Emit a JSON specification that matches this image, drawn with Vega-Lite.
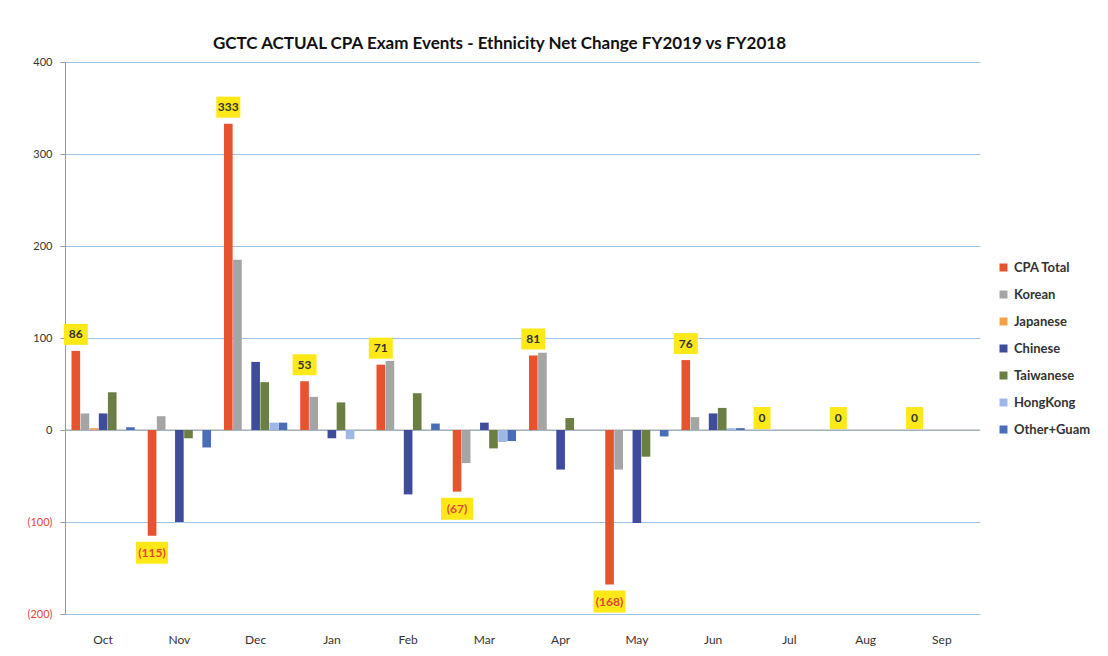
{
  "$schema": "https://vega.github.io/schema/vega-lite/v6.json",
  "width": 915,
  "height": 552,
  "autosize": {"type": "none"},
  "padding": {"left": 65, "top": 62, "right": 128, "bottom": 42},
  "background": "white",
  "title": {"text": "GCTC ACTUAL CPA Exam Events - Ethnicity Net Change FY2019 vs FY2018", "font": "Lato", "fontSize": 17, "fontWeight": "bold", "color": "#111", "anchor": "middle", "dx": -23, "dy": 240, "offset": 10},
  "config": {"view": {"stroke": null}},
  "data": {"values": [
    {"month": "Oct", "series": "CPA Total", "value": 86},
    {"month": "Oct", "series": "Korean", "value": 18},
    {"month": "Oct", "series": "Japanese", "value": 2},
    {"month": "Oct", "series": "Chinese", "value": 18},
    {"month": "Oct", "series": "Taiwanese", "value": 41},
    {"month": "Oct", "series": "HongKong", "value": 0},
    {"month": "Oct", "series": "Other+Guam", "value": 3},
    {"month": "Nov", "series": "CPA Total", "value": -115},
    {"month": "Nov", "series": "Korean", "value": 15},
    {"month": "Nov", "series": "Japanese", "value": 0},
    {"month": "Nov", "series": "Chinese", "value": -100},
    {"month": "Nov", "series": "Taiwanese", "value": -9},
    {"month": "Nov", "series": "HongKong", "value": 0},
    {"month": "Nov", "series": "Other+Guam", "value": -19},
    {"month": "Dec", "series": "CPA Total", "value": 333},
    {"month": "Dec", "series": "Korean", "value": 185},
    {"month": "Dec", "series": "Japanese", "value": 0},
    {"month": "Dec", "series": "Chinese", "value": 74},
    {"month": "Dec", "series": "Taiwanese", "value": 52},
    {"month": "Dec", "series": "HongKong", "value": 8},
    {"month": "Dec", "series": "Other+Guam", "value": 8},
    {"month": "Jan", "series": "CPA Total", "value": 53},
    {"month": "Jan", "series": "Korean", "value": 36},
    {"month": "Jan", "series": "Japanese", "value": 0},
    {"month": "Jan", "series": "Chinese", "value": -9},
    {"month": "Jan", "series": "Taiwanese", "value": 30},
    {"month": "Jan", "series": "HongKong", "value": -10},
    {"month": "Jan", "series": "Other+Guam", "value": 0},
    {"month": "Feb", "series": "CPA Total", "value": 71},
    {"month": "Feb", "series": "Korean", "value": 75},
    {"month": "Feb", "series": "Japanese", "value": 0},
    {"month": "Feb", "series": "Chinese", "value": -70},
    {"month": "Feb", "series": "Taiwanese", "value": 40},
    {"month": "Feb", "series": "HongKong", "value": 0},
    {"month": "Feb", "series": "Other+Guam", "value": 7},
    {"month": "Mar", "series": "CPA Total", "value": -67},
    {"month": "Mar", "series": "Korean", "value": -36},
    {"month": "Mar", "series": "Japanese", "value": 0},
    {"month": "Mar", "series": "Chinese", "value": 8},
    {"month": "Mar", "series": "Taiwanese", "value": -20},
    {"month": "Mar", "series": "HongKong", "value": -13},
    {"month": "Mar", "series": "Other+Guam", "value": -12},
    {"month": "Apr", "series": "CPA Total", "value": 81},
    {"month": "Apr", "series": "Korean", "value": 84},
    {"month": "Apr", "series": "Japanese", "value": 0},
    {"month": "Apr", "series": "Chinese", "value": -43},
    {"month": "Apr", "series": "Taiwanese", "value": 13},
    {"month": "Apr", "series": "HongKong", "value": 0},
    {"month": "Apr", "series": "Other+Guam", "value": 0},
    {"month": "May", "series": "CPA Total", "value": -168},
    {"month": "May", "series": "Korean", "value": -43},
    {"month": "May", "series": "Japanese", "value": 0},
    {"month": "May", "series": "Chinese", "value": -101},
    {"month": "May", "series": "Taiwanese", "value": -29},
    {"month": "May", "series": "HongKong", "value": 0},
    {"month": "May", "series": "Other+Guam", "value": -7},
    {"month": "Jun", "series": "CPA Total", "value": 76},
    {"month": "Jun", "series": "Korean", "value": 14},
    {"month": "Jun", "series": "Japanese", "value": 0},
    {"month": "Jun", "series": "Chinese", "value": 18},
    {"month": "Jun", "series": "Taiwanese", "value": 24},
    {"month": "Jun", "series": "HongKong", "value": 2},
    {"month": "Jun", "series": "Other+Guam", "value": 2},
    {"month": "Jul", "series": "CPA Total", "value": 0},
    {"month": "Jul", "series": "Korean", "value": 0},
    {"month": "Jul", "series": "Japanese", "value": 0},
    {"month": "Jul", "series": "Chinese", "value": 0},
    {"month": "Jul", "series": "Taiwanese", "value": 0},
    {"month": "Jul", "series": "HongKong", "value": 0},
    {"month": "Jul", "series": "Other+Guam", "value": 0},
    {"month": "Aug", "series": "CPA Total", "value": 0},
    {"month": "Aug", "series": "Korean", "value": 0},
    {"month": "Aug", "series": "Japanese", "value": 0},
    {"month": "Aug", "series": "Chinese", "value": 0},
    {"month": "Aug", "series": "Taiwanese", "value": 0},
    {"month": "Aug", "series": "HongKong", "value": 0},
    {"month": "Aug", "series": "Other+Guam", "value": 0},
    {"month": "Sep", "series": "CPA Total", "value": 0},
    {"month": "Sep", "series": "Korean", "value": 0},
    {"month": "Sep", "series": "Japanese", "value": 0},
    {"month": "Sep", "series": "Chinese", "value": 0},
    {"month": "Sep", "series": "Taiwanese", "value": 0},
    {"month": "Sep", "series": "HongKong", "value": 0},
    {"month": "Sep", "series": "Other+Guam", "value": 0}
  ]},
  "layer": [
    {
      "mark": {"type": "bar", "opacity": 0},
      "encoding": {
        "x": {"field": "month", "type": "nominal", "sort": ["Oct","Nov","Dec","Jan","Feb","Mar","Apr","May","Jun","Jul","Aug","Sep"], "scale": {"paddingInner": 0.17, "paddingOuter": 0.085},
          "axis": {"title": null, "domain": false, "ticks": false, "labelAngle": 0, "labelPadding": 20, "labelFont": "Lato", "labelFontSize": 12, "labelColor": "#333"}},
        "y": {"field": "value", "type": "quantitative", "scale": {"domain": [-200, 400]},
          "axis": {"title": null, "values": [-200,-100,0,100,200,300,400], "format": "(d", "grid": true, "gridColor": "#9DC3E6", "domainColor": "#999", "tickColor": "#999", "tickSize": 5, "labelPadding": 8, "labelFont": "Lato", "labelFontSize": 11,
            "labelColor": {"condition": {"test": "datum.value < 0", "value": "#E2483A"}, "value": "#333"}}}
      }
    },
    {
      "data": {"values": [{}]},
      "mark": {"type": "rule", "color": "#A6A6A6", "strokeWidth": 1.2},
      "encoding": {"y": {"datum": 0}}
    },
    {
      "mark": {"type": "bar"},
      "encoding": {
        "x": {"field": "month", "type": "nominal", "sort": ["Oct","Nov","Dec","Jan","Feb","Mar","Apr","May","Jun","Jul","Aug","Sep"]},
        "xOffset": {"field": "series", "type": "nominal", "scale": {"domain": ["CPA Total","Korean","Japanese","Chinese","Taiwanese","HongKong","Other+Guam"], "paddingInner": 0.05}},
        "y": {"field": "value", "type": "quantitative"},
        "color": {"field": "series", "type": "nominal",
          "scale": {"domain": ["CPA Total","Korean","Japanese","Chinese","Taiwanese","HongKong","Other+Guam"], "range": ["#E5532F","#A5A5A5","#F5A04A","#3E4C9B","#6B7F45","#9DB8E8","#4A6DB8"]},
          "legend": {"title": null, "orient": "none", "legendX": 932, "legendY": 199, "symbolType": "square", "symbolSize": 64, "labelFont": "Lato", "labelFontSize": 13, "labelFontWeight": "bold", "labelColor": "#333", "rowPadding": 13}}
      }
    },
    {
      "transform": [{"filter": "datum.series == 'CPA Total' && datum.value > 0"}],
      "mark": {"type": "point", "filled": true, "shape": "M-1.2,-0.6L1.2,-0.6L1.2,-2.7L-1.2,-2.7Z", "size": 400, "fill": "#FFE817", "opacity": 1, "strokeWidth": 0},
      "encoding": {
        "x": {"field": "month", "type": "nominal", "sort": ["Oct","Nov","Dec","Jan","Feb","Mar","Apr","May","Jun","Jul","Aug","Sep"]},
        "xOffset": {"field": "series", "type": "nominal"},
        "y": {"field": "value", "type": "quantitative"}
      }
    },
    {
      "transform": [{"filter": "datum.series == 'CPA Total' && datum.value < 0"}],
      "mark": {"type": "point", "filled": true, "shape": "M-1.6,0.6L1.6,0.6L1.6,2.8L-1.6,2.8Z", "size": 400, "fill": "#FFE817", "opacity": 1, "strokeWidth": 0},
      "encoding": {
        "x": {"field": "month", "type": "nominal", "sort": ["Oct","Nov","Dec","Jan","Feb","Mar","Apr","May","Jun","Jul","Aug","Sep"]},
        "xOffset": {"field": "series", "type": "nominal"},
        "y": {"field": "value", "type": "quantitative"}
      }
    },
    {
      "transform": [{"filter": "datum.series == 'CPA Total' && datum.value == 0"}],
      "mark": {"type": "point", "filled": true, "shape": "M-0.85,-0.1L0.85,-0.1L0.85,-2.3L-0.85,-2.3Z", "size": 400, "fill": "#FFE817", "opacity": 1, "strokeWidth": 0},
      "encoding": {
        "x": {"field": "month", "type": "nominal", "sort": ["Oct","Nov","Dec","Jan","Feb","Mar","Apr","May","Jun","Jul","Aug","Sep"]},
        "xOffset": {"field": "series", "type": "nominal"},
        "y": {"field": "value", "type": "quantitative"}
      }
    },
    {
      "transform": [{"filter": "datum.series == 'CPA Total' && datum.value > 0"}],
      "mark": {"type": "text", "dy": -16.5, "baseline": "middle", "font": "Lato", "fontSize": 12, "fontWeight": "bold", "color": "#333"},
      "encoding": {
        "x": {"field": "month", "type": "nominal", "sort": ["Oct","Nov","Dec","Jan","Feb","Mar","Apr","May","Jun","Jul","Aug","Sep"]},
        "xOffset": {"field": "series", "type": "nominal"},
        "y": {"field": "value", "type": "quantitative"},
        "text": {"field": "value", "type": "quantitative", "format": "(d"}
      }
    },
    {
      "transform": [{"filter": "datum.series == 'CPA Total' && datum.value < 0"}],
      "mark": {"type": "text", "dy": 17, "baseline": "middle", "font": "Lato", "fontSize": 12, "fontWeight": "bold", "color": "#E2483A"},
      "encoding": {
        "x": {"field": "month", "type": "nominal", "sort": ["Oct","Nov","Dec","Jan","Feb","Mar","Apr","May","Jun","Jul","Aug","Sep"]},
        "xOffset": {"field": "series", "type": "nominal"},
        "y": {"field": "value", "type": "quantitative"},
        "text": {"field": "value", "type": "quantitative", "format": "(d"}
      }
    },
    {
      "transform": [{"filter": "datum.series == 'CPA Total' && datum.value == 0"}],
      "mark": {"type": "text", "dy": -12, "baseline": "middle", "font": "Lato", "fontSize": 12, "fontWeight": "bold", "color": "#333"},
      "encoding": {
        "x": {"field": "month", "type": "nominal", "sort": ["Oct","Nov","Dec","Jan","Feb","Mar","Apr","May","Jun","Jul","Aug","Sep"]},
        "xOffset": {"field": "series", "type": "nominal"},
        "y": {"field": "value", "type": "quantitative"},
        "text": {"field": "value", "type": "quantitative", "format": "(d"}
      }
    }
  ]
}
